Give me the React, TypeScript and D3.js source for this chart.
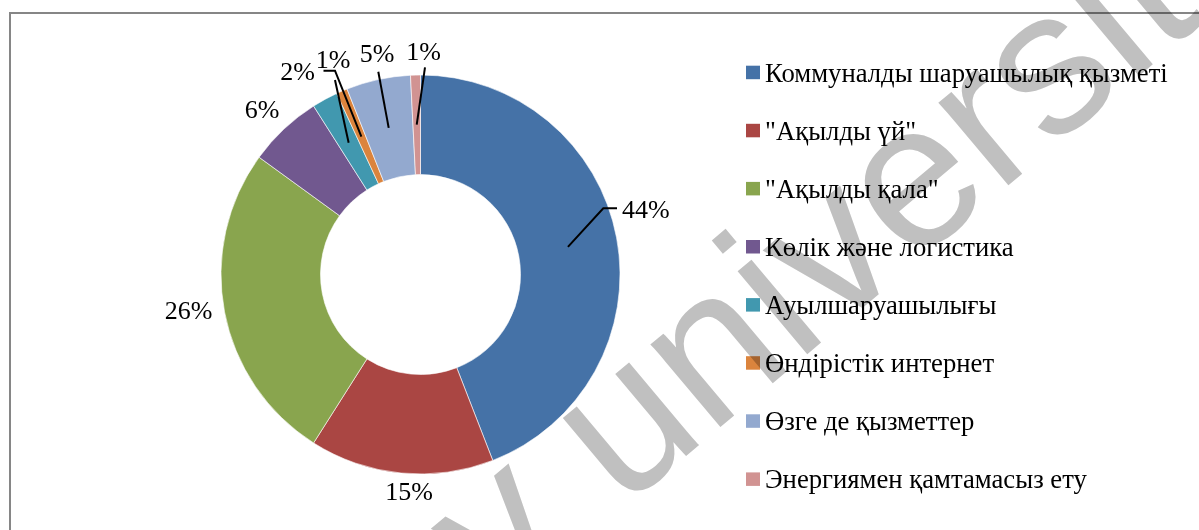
import React from 'react';
import * as d3 from 'd3';

const categories = [
  'Коммуналды шаруашылық қызметі',
  '"Ақылды үй"',
  '"Ақылды қала"',
  'Көлік және логистика',
  'Ауылшаруашылығы',
  'Өндірістік интернет',
  'Өзге де қызметтер',
  'Энергиямен қамтамасыз ету',
];
const values = [44.1, 14.9, 26.0, 6.0, 2.1, 0.9, 5.2, 0.8];
const valueLabels = ['44%', '15%', '26%', '6%', '2%', '1%', '5%', '1%'];
const colors = ['#4572A7', '#AA4643', '#89A54E', '#71588F', '#4198AF', '#DB843D', '#93A9CF', '#D19392'];

// label placement (text anchor point + leader elbow points), kept apart from data
const labelLayout: { x: number; y: number; anchor: string; leader: number[][] | null }[] = [
  { x: 622, y: 218, anchor: 'start', leader: [[603.3, 208.3], [617, 208.3]] },
  { x: 409, y: 500, anchor: 'middle', leader: null },
  { x: 188.5, y: 319, anchor: 'middle', leader: null },
  { x: 262, y: 118, anchor: 'middle', leader: null },
  { x: 297.5, y: 80, anchor: 'middle', leader: [[335, 80]] },
  { x: 333, y: 68, anchor: 'middle', leader: [[335, 70.7], [323.5, 70.7]] },
  { x: 377, y: 62, anchor: 'middle', leader: [[378.3, 71.7]] },
  { x: 423.5, y: 60, anchor: 'middle', leader: [[425, 67.3]] },
];

const W = 1199;
const H = 530;
const cx = 420.5;
const cy = 274.5;
const rOuter = 199.5;
const rInner = 100;

export default function App() {
  const pie = d3.pie<number>().value((d) => d).sort(null);
  const arcs = pie(values);
  const arc = d3.arc<d3.PieArcDatum<number>>().innerRadius(rInner).outerRadius(rOuter);
  const midArc = d3.arc<d3.PieArcDatum<number>>().innerRadius(150).outerRadius(150);
  const line = d3.line();

  const legendX = 746;
  const legendTop = 65.7;
  const legendStep = 58.1;

  return (
    <svg
      width={W}
      height={H}
      style={{ position: 'absolute', left: 0, top: 0, background: '#fff' }}
      fontFamily="'Liberation Serif', 'Times New Roman', serif"
    >
      <rect x={0} y={0} width={W} height={H} fill="#fff" />
      <rect x={10} y={13} width={1300} height={700} fill="none" stroke="#868686" strokeWidth={2} />
      <g transform={`translate(${cx},${cy})`}>
        {arcs.map((a, i) => (
          <path key={i} d={arc(a) || ''} fill={colors[i]} stroke="#fff" strokeWidth={0.6} />
        ))}
      </g>
      {arcs.map((a, i) => {
        const L = labelLayout[i];
        const c = midArc.centroid(a);
        const start: [number, number] = [cx + c[0], cy + c[1]];
        return (
          <g key={i}>
            {L.leader && (
              <path
                d={line([start, ...(L.leader as [number, number][])]) || ''}
                fill="none"
                stroke="#000"
                strokeWidth={2}
              />
            )}
            <text x={L.x} y={L.y} textAnchor={L.anchor} fontSize={26} fill="#000">
              {valueLabels[i]}
            </text>
          </g>
        );
      })}
      {categories.map((c, i) => (
        <g key={i}>
          <rect x={legendX} y={legendTop + i * legendStep} width={14} height={13.5} fill={colors[i]} />
          <text x={765} y={legendTop + 16 + i * legendStep} fontSize={26.7} fill="#000">
            {c}
          </text>
        </g>
      ))}
      <g style={{ mixBlendMode: 'multiply' }}>
        <text
          transform="translate(500,612) rotate(-40)"
          fontFamily="'Liberation Sans', Arial, sans-serif"
          fontSize={205}
          fill="#c0c0c0"
        >
          y university
        </text>
      </g>
    </svg>
  );
}
